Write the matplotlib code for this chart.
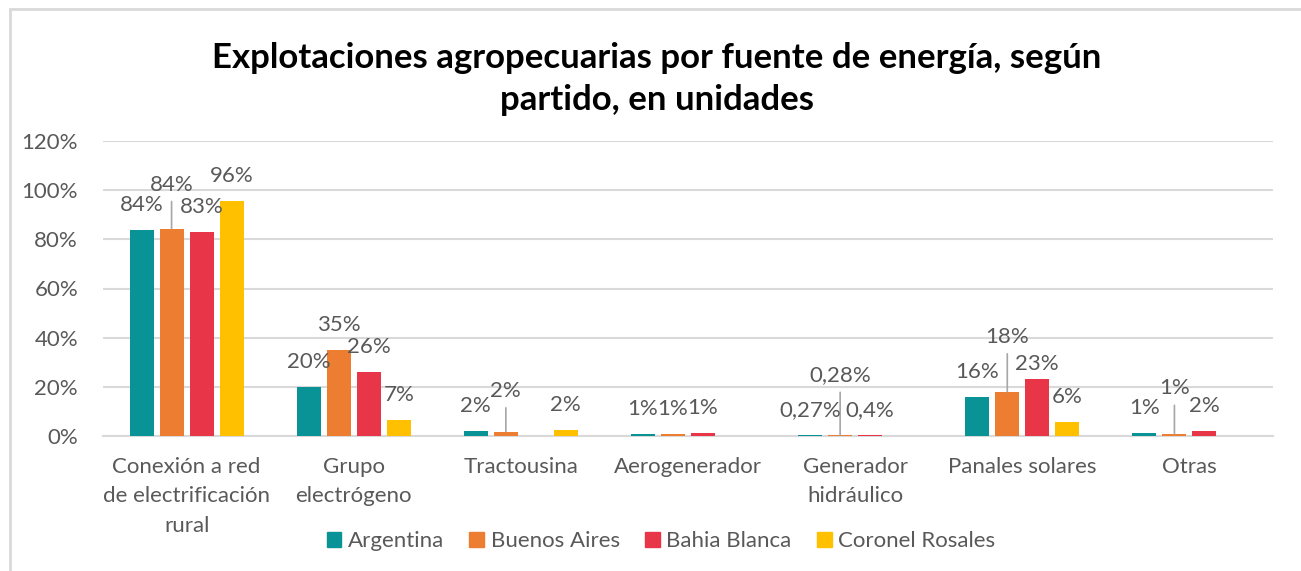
import numpy as np
import matplotlib
matplotlib.use("Agg")
import matplotlib.pyplot as plt
from matplotlib.patches import Rectangle, Patch

plt.rcParams['font.family'] = ['Lato', 'DejaVu Sans']

categories = ["Conexión a red\nde electrificación\nrural", "Grupo\nelectrógeno", "Tractousina",
              "Aerogenerador", "Generador\nhidráulico", "Panales solares", "Otras"]
series = ["Argentina", "Buenos Aires", "Bahia Blanca", "Coronel Rosales"]
argentina = [83.7, 19.8, 2.0, 0.9, 0.27, 15.9, 1.3]
buenos_aires = [84.4, 34.8, 1.7, 0.8, 0.28, 18.0, 0.7]
bahia_blanca = [83.1, 26.2, np.nan, 1.2, 0.4, 23.3, 2.1]
coronel_rosales = [95.5, 6.6, 2.3, np.nan, np.nan, 5.6, np.nan]
labels_arg = ["84%", "20%", "2%", "1%", "0,27%", "16%", "1%"]
labels_ba = ["84%", "35%", "2%", "1%", "0,28%", "18%", "1%"]
labels_bb = ["83%", "26%", "", "1%", "0,4%", "23%", "2%"]
labels_cr = ["96%", "7%", "2%", "", "", "6%", ""]
yticks = [0, 20, 40, 60, 80, 100, 120]

values = [argentina, buenos_aires, bahia_blanca, coronel_rosales]
labels = [labels_arg, labels_ba, labels_bb, labels_cr]
colors = ["#0A9396", "#ED7D31", "#E83547", "#FFC000"]
GRAY = "#595959"

W, H = 1301, 571
fig = plt.figure(figsize=(W / 100, H / 100), dpi=100)
fig.patches.append(Rectangle((10 / W, -0.1), 1.2, 1 - 9 / H + 0.1, transform=fig.transFigure,
                             fill=False, edgecolor="#d9d9d9", linewidth=2))

ax = fig.add_axes([103 / W, 1 - 436 / H, 1170 / W, 295 / H])
x = np.arange(len(categories))
slot = 30 / (1170 / 7)
bw = 24 / (1170 / 7)

# label offsets (px above bar top) and leader lines, default 25
override = {(0, 1): 44, (2, 1): 41, (4, 1): 60, (5, 1): 55, (5, 2): 15, (6, 1): 46}
leaders = {(0, 1), (2, 1), (4, 1), (5, 1), (6, 1)}

for si, (vals, col) in enumerate(zip(values, colors)):
    xs = x + (si - 1.5) * slot
    ax.bar(xs, vals, width=bw, color=col, label=series[si], zorder=3, linewidth=0)
    for ci, (xx, v) in enumerate(zip(xs, vals)):
        lab = labels[si][ci]
        if not lab or np.isnan(v):
            continue
        dy = override.get((ci, si), 25)
        ax.annotate(lab, (xx, v), xytext=(0, dy * 0.72), textcoords="offset points",
                    ha="center", va="center", fontsize=16, color=GRAY, zorder=5)
        if (ci, si) in leaders:
            ax.annotate("", (xx, v), xytext=(0, (dy - 17) * 0.72), textcoords="offset points",
                        arrowprops=dict(arrowstyle="-", color="#a6a6a6", lw=1.2, shrinkA=0, shrinkB=0))

ax.set_xlim(-0.5, len(categories) - 0.5)
ax.set_ylim(0, 120)
ax.set_yticks(yticks)
ax.set_yticklabels([f"{t}%" for t in yticks], fontsize=16, color=GRAY)
ax.set_xticks(x)
ax.set_xticklabels(categories, fontsize=16, color=GRAY, linespacing=1.6, va="top")
ax.tick_params(length=0)
ax.tick_params(axis="y", pad=18)
ax.tick_params(axis="x", pad=15)
ax.grid(axis="y", color="#d9d9d9", linewidth=1.5, zorder=0)
for s in ["left", "right", "top"]:
    ax.spines[s].set_visible(False)
ax.spines["bottom"].set_color("#d9d9d9")
ax.spines["bottom"].set_linewidth(1.5)

fig.text(657 / W, 1 - 79 / H, "Explotaciones agropecuarias por fuente de energía, según\npartido, en unidades",
         ha="center", va="center", fontsize=25, fontweight="bold", color="black", linespacing=1.35)

handles = [Patch(color=c) for c in colors]
fig.legend(handles, series, loc="center", bbox_to_anchor=(661 / W, 1 - 541 / H), ncol=4,
           frameon=False, fontsize=16, labelcolor=GRAY, handlelength=0.65, handleheight=0.65,
           handletextpad=0.3, columnspacing=1.15)

fig.savefig("out.png", dpi=100)
